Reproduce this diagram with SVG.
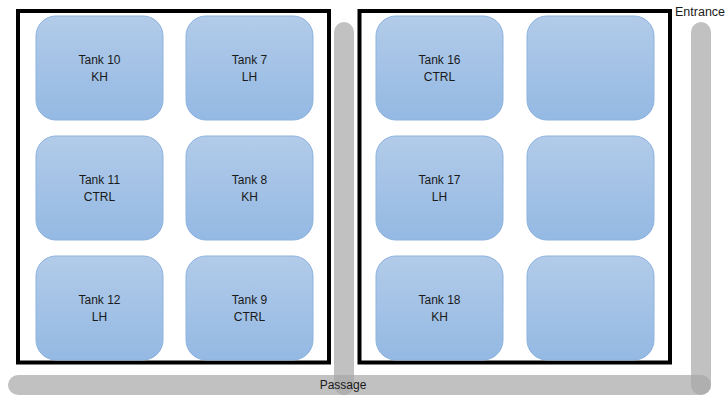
<svg xmlns="http://www.w3.org/2000/svg" width="727" height="396" viewBox="0 0 727 396">
  <defs>
    <linearGradient id="tankGrad" x1="0" y1="0" x2="0" y2="1">
      <stop offset="0" stop-color="#b2cbe9"/>
      <stop offset="1" stop-color="#94b9e3"/>
    </linearGradient>
  </defs>
  <style>
    .tank { fill: url(#tankGrad); stroke: #8db3de; stroke-width: 1; }
    .room { fill: #ffffff; stroke: #000000; stroke-width: 4; }
    .bar { fill: #a6a6a6; fill-opacity: 0.7; }
    .lbl { font-family: "Liberation Sans", Arial, sans-serif; font-size: 12px; fill: #1a1a1a; text-anchor: middle; }
    .note { font-family: "Liberation Sans", Arial, sans-serif; font-size: 12.5px; fill: #1a1a1a; }
  </style>
  <rect width="727" height="396" fill="#ffffff"/>

  <g id="room-left"><rect class="room" x="18" y="11" width="311" height="351.5"/></g>
  <g id="room-right"><rect class="room" x="359.5" y="11" width="310.5" height="351.5"/></g>

  <g id="tank-10"><rect class="tank" x="36" y="16" width="127" height="104" rx="20"/><text class="lbl" x="99.5" y="64">Tank 10</text><text class="lbl" x="99.5" y="81">KH</text></g>
  <g id="tank-7"><rect class="tank" x="186" y="16" width="127" height="104" rx="20"/><text class="lbl" x="249.5" y="64">Tank 7</text><text class="lbl" x="249.5" y="81">LH</text></g>
  <g id="tank-11"><rect class="tank" x="36" y="136" width="127" height="104" rx="20"/><text class="lbl" x="99.5" y="184">Tank 11</text><text class="lbl" x="99.5" y="201">CTRL</text></g>
  <g id="tank-8"><rect class="tank" x="186" y="136" width="127" height="104" rx="20"/><text class="lbl" x="249.5" y="184">Tank 8</text><text class="lbl" x="249.5" y="201">KH</text></g>
  <g id="tank-12"><rect class="tank" x="36" y="256" width="127" height="104" rx="20"/><text class="lbl" x="99.5" y="304">Tank 12</text><text class="lbl" x="99.5" y="321">LH</text></g>
  <g id="tank-9"><rect class="tank" x="186" y="256" width="127" height="104" rx="20"/><text class="lbl" x="249.5" y="304">Tank 9</text><text class="lbl" x="249.5" y="321">CTRL</text></g>

  <g id="tank-16"><rect class="tank" x="376" y="16" width="127" height="104" rx="20"/><text class="lbl" x="439.5" y="64">Tank 16</text><text class="lbl" x="439.5" y="81">CTRL</text></g>
  <g id="tank-r1"><rect class="tank" x="527" y="16" width="127" height="104" rx="20"/></g>
  <g id="tank-17"><rect class="tank" x="376" y="136" width="127" height="104" rx="20"/><text class="lbl" x="439.5" y="184">Tank 17</text><text class="lbl" x="439.5" y="201">LH</text></g>
  <g id="tank-r2"><rect class="tank" x="527" y="136" width="127" height="104" rx="20"/></g>
  <g id="tank-18"><rect class="tank" x="376" y="256" width="127" height="104" rx="20"/><text class="lbl" x="439.5" y="304">Tank 18</text><text class="lbl" x="439.5" y="321">KH</text></g>
  <g id="tank-r3"><rect class="tank" x="527" y="256" width="127" height="104" rx="20"/></g>

  <g id="walkways">
    <rect class="bar" x="334" y="22" width="20" height="373" rx="10"/>
    <rect class="bar" x="691" y="22" width="20" height="373" rx="10"/>
    <rect class="bar" x="8" y="375" width="703" height="20" rx="10"/>
  </g>

  <g id="labels">
    <text class="lbl" x="343" y="389">Passage</text>
    <text class="note" x="675" y="16">Entrance</text>
  </g>
</svg>
